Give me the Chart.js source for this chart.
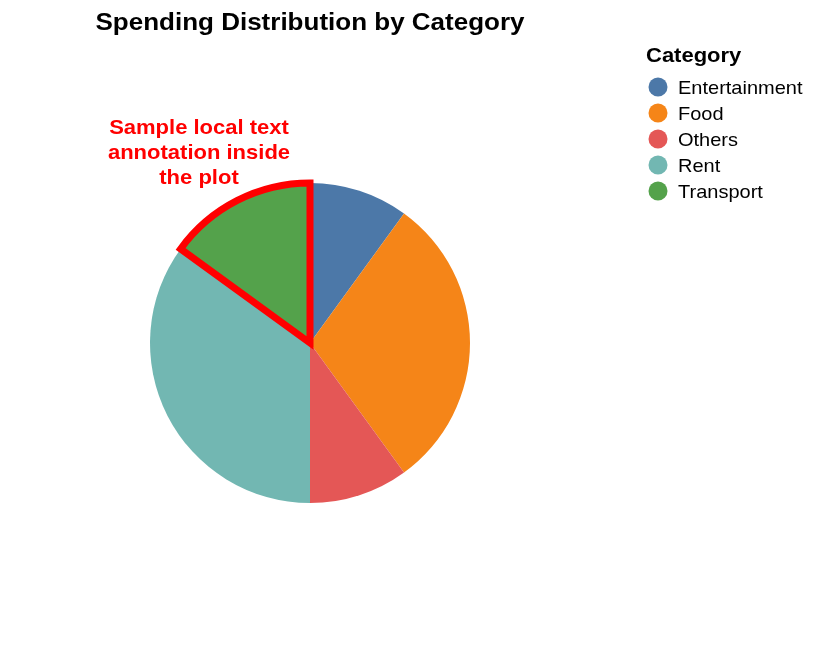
<!DOCTYPE html>
<html>
<head>
<meta charset="utf-8">
<script src="https://cdn.jsdelivr.net/npm/chart.js@4/dist/chart.umd.min.js"></script>
<style>
  html, body { margin: 0; padding: 0; background: #fff; }
  #wrap { width: 814px; height: 654px; position: relative; }
</style>
</head>
<body>
<div id="wrap"><canvas id="pieChart"></canvas></div>
<script>
// data
const categories = ['Entertainment', 'Food', 'Others', 'Rent', 'Transport'];
const spending = [10, 30, 10, 35, 15];
const sliceColors = ['#4c78a8', '#f58518', '#e45756', '#72b7b2', '#54a24b'];
const highlighted = 'Transport';
const chartTitle = 'Spending Distribution by Category';
const legendTitle = 'Category';
const noteLines = ['Sample local text', 'annotation inside', 'the plot'];

const FONT = '"Liberation Sans", Arial, Helvetica, sans-serif';

// text a bit wider than the font gives, like the original rendering
function wideText(ctx, txt, x, y, sx) {
    ctx.save();
    ctx.translate(x, y);
    ctx.scale(sx, 1);
    ctx.fillText(txt, 0, 0);
    ctx.restore();
}

// title, legend and the text note, drawn on the same canvas
const extras = {
    id: 'extras',
    afterDraw(chart) {
        const ctx = chart.ctx;
        ctx.save();
        ctx.fillStyle = '#000';
        ctx.textAlign = 'center';
        ctx.textBaseline = 'alphabetic';
        ctx.font = 'bold 24.5px ' + FONT;
        wideText(ctx, chartTitle, 310, 30, 26 / 24.5);

        // legend
        ctx.textAlign = 'left';
        ctx.font = 'bold 21px ' + FONT;
        wideText(ctx, legendTitle, 646, 62, 22 / 21);
        ctx.font = '19px ' + FONT;
        chart.data.labels.forEach((lab, i) => {
            const y = 87 + i * 26;
            ctx.beginPath();
            ctx.arc(658, y, 9.5, 0, Math.PI * 2);
            ctx.fillStyle = chart.data.datasets[0].backgroundColor[i];
            ctx.fill();
            ctx.fillStyle = '#000';
            wideText(ctx, lab, 678, y + 6.5, 20 / 19);
        });

        // annotation
        ctx.fillStyle = '#ff0000';
        ctx.textAlign = 'center';
        ctx.font = 'bold 21px ' + FONT;
        noteLines.forEach((line, i) => {
            wideText(ctx, line, 199, 134 + i * 25, 22 / 21);
        });
        ctx.restore();
    }
};

const ctx = document.getElementById('pieChart').getContext('2d');
new Chart(ctx, {
    type: 'pie',
    data: {
        labels: categories,
        datasets: [{
            data: spending,
            backgroundColor: sliceColors,
            borderColor: categories.map(c => c === highlighted ? '#ff0000' : 'rgba(0,0,0,0)'),
            borderWidth: categories.map(c => c === highlighted ? 7 : 0),
            borderAlign: 'center',
            borderJoinStyle: 'miter'
        }]
    },
    options: {
        responsive: true,
        maintainAspectRatio: false,
        animation: false,
        layout: {
            padding: { left: 146.5, right: 340.5, top: 179.5, bottom: 147.5 }
        },
        plugins: {
            legend: { display: false },
            title: { display: false },
            tooltip: { enabled: false }
        }
    },
    plugins: [extras]
});
</script>
</body>
</html>
